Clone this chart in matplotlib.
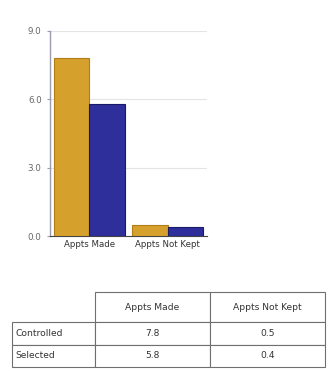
import matplotlib
matplotlib.use("Agg")
import matplotlib.pyplot as plt
import numpy as np

categories = ["Appts Made", "Appts Not Kept"]
series_names = ["Controlled", "Selected"]
controlled = [7.8, 0.5]
selected = [5.8, 0.4]
yticks = [0.0, 3.0, 6.0, 9.0]

colors = ["#D6A02C", "#2F2F9C"]
edges = ["#B07E18", "#1A1A66"]

fig = plt.figure(figsize=(3.28, 3.71), dpi=100)
ax = fig.add_axes([50/328, 1-236/371, 157/328, 205/371])

x = np.arange(len(categories))
w = 0.45
ax.bar(x - w/2, controlled, w, color=colors[0], edgecolor=edges[0], linewidth=0.8, zorder=3)
ax.bar(x + w/2, selected, w, color=colors[1], edgecolor=edges[1], linewidth=0.8, zorder=3)

ax.set_xlim(-0.5, 1.5)
ax.set_ylim(0, 9)
ax.set_yticks(yticks)
ax.set_yticklabels([f"{v:.1f}" for v in yticks], fontsize=6.3, color="#666666")
ax.set_xticks(x)
ax.set_xticklabels(categories, fontsize=6.2, color="#333333")
ax.tick_params(axis="y", length=2, color="#9a9ab0", pad=4)
ax.tick_params(axis="x", length=0, pad=3)
ax.yaxis.grid(True, color="#e4e4e4", linewidth=0.8, zorder=0)
for s in ["top", "right"]:
    ax.spines[s].set_visible(False)
ax.spines["left"].set_color("#9a9ab0")
ax.spines["left"].set_linewidth(1.0)
ax.spines["bottom"].set_color("#444444")
ax.spines["bottom"].set_linewidth(0.8)

tax = fig.add_axes([12/328, 1-367/371, 313/328, 75/371])
tax.axis("off")
header = [""] + categories
rows = [[series_names[0]] + [f"{v:.1f}" for v in controlled],
        [series_names[1]] + [f"{v:.1f}" for v in selected]]
tbl = tax.table(cellText=[header] + rows, cellLoc="center", bbox=[0, 0, 1, 1])
tbl.auto_set_font_size(False)
widths = [83, 115, 115]
for (r, c), cell in tbl.get_celld().items():
    cell.set_edgecolor("#6f6f6f")
    cell.set_linewidth(0.8)
    cell.get_text().set_fontsize(6.6)
    cell.get_text().set_color("#333333")
    cell.set_width(widths[c])
    cell.set_height(30 if r == 0 else 22)
    if c == 0:
        cell.get_text().set_horizontalalignment("left")
        cell._loc = "left"
        cell.PAD = 0.04
    if r == 0 and c == 0:
        cell.visible_edges = ""

fig.savefig("out.png", dpi=100, facecolor="white")
